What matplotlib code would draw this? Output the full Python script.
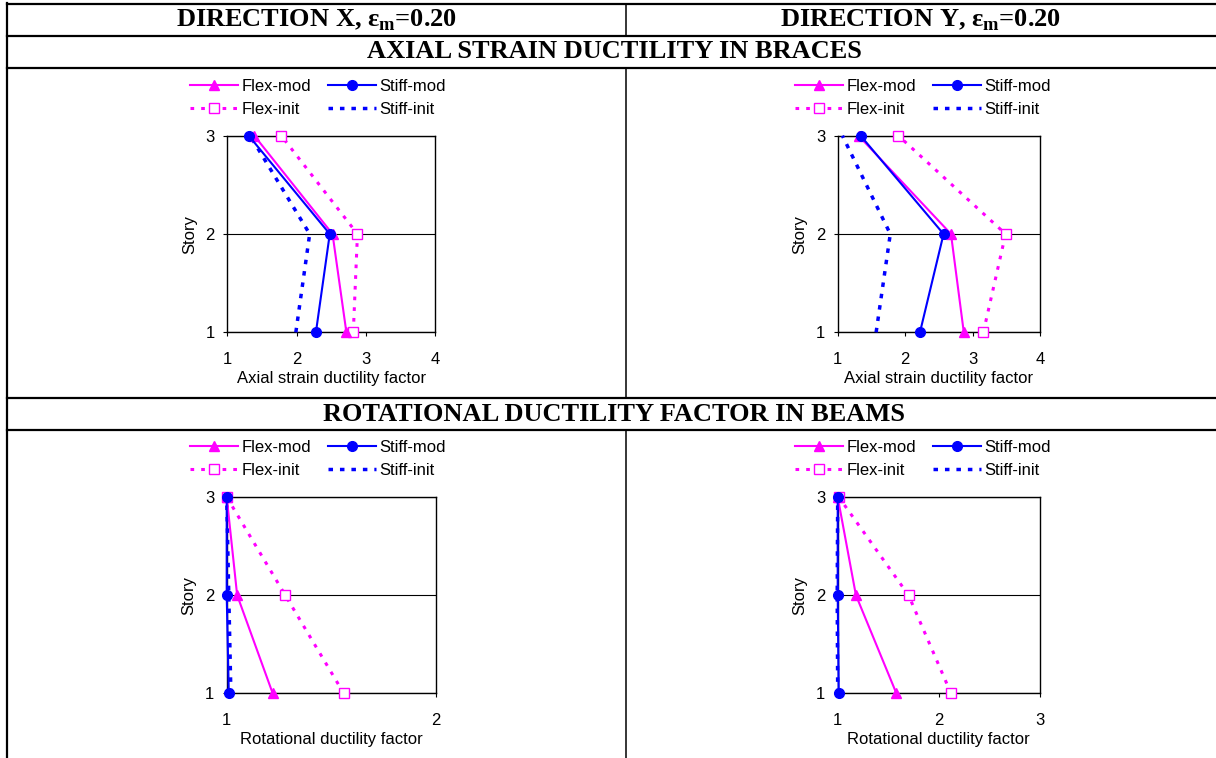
import matplotlib.pyplot as plt
from matplotlib.lines import Line2D

plt.rcParams['font.family'] = ['Liberation Sans', 'DejaVu Sans']
plt.rcParams['mathtext.fontset'] = 'custom'
plt.rcParams['mathtext.rm'] = 'Liberation Serif:bold'
plt.rcParams['mathtext.bf'] = 'Liberation Serif:bold'

W, H = 1216, 758

# Story levels
stories = [1, 2, 3]

# Axial strain ductility in braces, direction X
brace_x_flex_mod = [2.72, 2.52, 1.39]
brace_x_stiff_mod = [2.28, 2.48, 1.31]
brace_x_flex_init = [2.82, 2.88, 1.78]
brace_x_stiff_init = [1.99, 2.19, 1.33]

# Axial strain ductility in braces, direction Y
brace_y_flex_mod = [2.87, 2.68, 1.31]
brace_y_stiff_mod = [2.22, 2.57, 1.34]
brace_y_flex_init = [3.16, 3.49, 1.90]
brace_y_stiff_init = [1.57, 1.78, 1.07]

# Rotational ductility in beams, direction X
beam_x_flex_mod = [1.22, 1.05, 1.00]
beam_x_stiff_mod = [1.01, 1.00, 1.00]
beam_x_flex_init = [1.56, 1.28, 1.00]
beam_x_stiff_init = [1.02, 1.01, 1.00]

# Rotational ductility in beams, direction Y
beam_y_flex_mod = [1.58, 1.18, 1.00]
beam_y_stiff_mod = [1.01, 1.00, 1.00]
beam_y_flex_init = [2.12, 1.70, 1.01]
beam_y_stiff_init = [1.00, 0.995, 1.00]

series_names = ['Flex-mod', 'Stiff-mod', 'Flex-init', 'Stiff-init']
col_titles = [r'DIRECTION X, ε$_\mathregular{m}$=0.20', r'DIRECTION Y, ε$_\mathregular{m}$=0.20']
row_titles = ['AXIAL STRAIN DUCTILITY IN BRACES', 'ROTATIONAL DUCTILITY FACTOR IN BEAMS']

MAG = '#FF00FF'
BLUE = '#0000FF'

fig = plt.figure(figsize=(W / 100, H / 100), dpi=100)


def fx(px):
    return px / W


def fy(py):
    return 1 - py / H


def hline(y, x0=7, x1=W, lw=1.6):
    fig.add_artist(Line2D([fx(x0), fx(x1)], [fy(y), fy(y)], color='black', lw=lw,
                          transform=fig.transFigure))


def vline(x, y0, y1, lw=1.6):
    fig.add_artist(Line2D([fx(x), fx(x)], [fy(y0), fy(y1)], color='black', lw=lw,
                          transform=fig.transFigure))


# table grid
for y in [4, 35.5, 68, 398, 430]:
    hline(y)
vline(7, 3, H)
for y0, y1 in [(4, 35.5), (68, 398), (430, H)]:
    vline(626, y0, y1, lw=1.1)

serif = dict(family='Liberation Serif', weight='bold', fontsize=19, ha='center', va='center')
fig.text(fx(317), fy(20), col_titles[0], **serif)
fig.text(fx(921), fy(20), col_titles[1], **serif)
fig.text(fx(614), fy(52), row_titles[0], **serif)
fig.text(fx(614), fy(414), row_titles[1], **serif)


def make_panel(box, data, xlim, xticks, xlabel, legend_center):
    l, r, t, b = box
    ax = fig.add_axes([fx(l), fy(b), fx(r - l), fy(t) - fy(b)])
    flex_mod, stiff_mod, flex_init, stiff_init = data
    h1, = ax.plot(flex_mod, stories, color=MAG, lw=1.5, marker='^', ms=7.5, clip_on=False, zorder=4)
    h2, = ax.plot(stiff_mod, stories, color=BLUE, lw=1.5, marker='o', ms=7, clip_on=False, zorder=5)
    h3, = ax.plot(flex_init, stories, color=MAG, lw=2.2, linestyle=(0, (1.2, 2.3)), marker='s', ms=6.5,
                  mfc='white', mec=MAG, mew=1, clip_on=False, zorder=3)
    h4, = ax.plot(stiff_init, stories, color=BLUE, lw=2.5, linestyle=(0, (1.3, 2.0)), clip_on=False, zorder=3)
    ax.set_xlim(*xlim)
    ax.set_ylim(1, 3)
    ax.set_xticks(xticks)
    ax.set_yticks([1, 2, 3])
    ax.yaxis.grid(True, color='black', lw=0.8)
    for s in ax.spines.values():
        s.set_color('black')
        s.set_linewidth(1.0)
    ax.tick_params(axis='x', direction='out', length=3, width=0.8, pad=11, labelsize=12)
    ax.tick_params(axis='y', direction='out', length=3, width=0.8, pad=6, labelsize=12)
    ax.set_ylabel('Story', fontsize=12, labelpad=6)
    ax.set_xlabel(xlabel, fontsize=12, labelpad=3)
    ax.legend([h1, h3, h2, h4], [series_names[0], series_names[2], series_names[1], series_names[3]],
              ncol=2, loc='center', bbox_to_anchor=(fx(legend_center[0]), fy(legend_center[1])),
              bbox_transform=fig.transFigure, frameon=False, fontsize=12, handlelength=2.9,
              handletextpad=0.2, columnspacing=1.0, labelspacing=0.45, borderpad=0)
    return ax


make_panel((227.3, 435, 135.7, 332.3),
           [brace_x_flex_mod, brace_x_stiff_mod, brace_x_flex_init, brace_x_stiff_init],
           (1, 4), [1, 2, 3, 4], 'Axial strain ductility factor', (318, 98))
make_panel((837.7, 1040, 135.7, 332.3),
           [brace_y_flex_mod, brace_y_stiff_mod, brace_y_flex_init, brace_y_stiff_init],
           (1, 4), [1, 2, 3, 4], 'Axial strain ductility factor', (923, 98))
make_panel((226.7, 435.7, 497, 693.3),
           [beam_x_flex_mod, beam_x_stiff_mod, beam_x_flex_init, beam_x_stiff_init],
           (1, 2), [1, 2], 'Rotational ductility factor', (318, 459))
make_panel((837.7, 1040, 497, 693.3),
           [beam_y_flex_mod, beam_y_stiff_mod, beam_y_flex_init, beam_y_stiff_init],
           (1, 3), [1, 2, 3], 'Rotational ductility factor', (923, 459))

fig.savefig('out.png', dpi=100)
